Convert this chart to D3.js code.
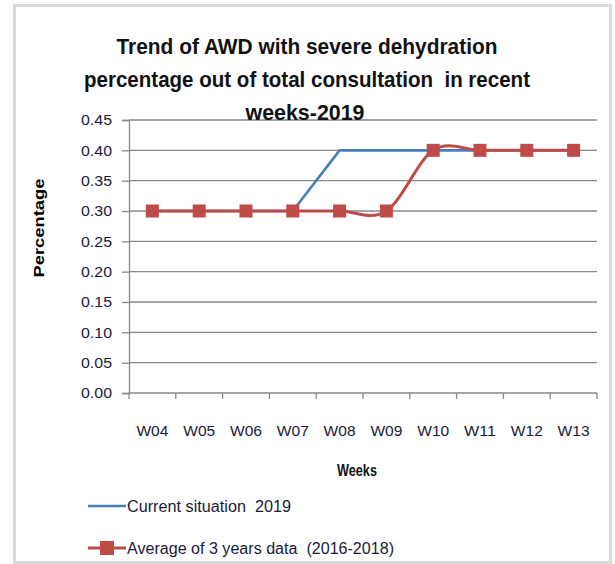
<!DOCTYPE html>
<html>
<head>
<meta charset="utf-8">
<script src="https://cdn.jsdelivr.net/npm/d3@7"></script>
<style>
  body { margin: 0; background: #fff; }
  svg { display: block; font-family: "Liberation Sans", Arial, sans-serif; }
  text { white-space: pre; }
</style>
</head>
<body>
<div id="chart"></div>
<script>
// --- données ---
const weeks = ["W04", "W05", "W06", "W07", "W08", "W09", "W10", "W11", "W12", "W13"];
const current2019 = [0.30, 0.30, 0.30, 0.30, 0.40, 0.40, 0.40, 0.40, 0.40, 0.40];
const average3y = [0.30, 0.30, 0.30, 0.30, 0.30, 0.30, 0.40, 0.40, 0.40, 0.40];
const yTicks = [0, 0.05, 0.10, 0.15, 0.20, 0.25, 0.30, 0.35, 0.40, 0.45];
const titleLines = [
  "Trend of AWD with severe dehydration",
  "percentage out of total consultation  in recent",
  "weeks-2019"
];
const legendLabels = ["Current situation  2019", "Average of 3 years data  (2016-2018)"];

const W = 615, H = 564;
const margin = {top: 120, right: 18, bottom: 171, left: 129};
const plotW = 597 - margin.left;
const plotH = 393 - margin.top;

const svg = d3.select("#chart").append("svg")
  .attr("width", W).attr("height", H);

// cadre extérieur
svg.append("rect")
  .attr("x", 14.5).attr("y", 5.5).attr("width", 596).attr("height", 557)
  .attr("fill", "none").attr("stroke", "#d9d9d9").attr("stroke-width", 3);

const g = svg.append("g").attr("transform", `translate(${margin.left},${margin.top})`);

const x = d3.scaleBand().domain(weeks).range([0, plotW]);
const y = d3.scaleLinear().domain([0, 0.45]).range([plotH, 0]);

// grille horizontale
g.selectAll(".grid").data(yTicks.slice(1)).join("line")
  .attr("x1", 0).attr("x2", plotW)
  .attr("y1", d => y(d)).attr("y2", d => y(d))
  .attr("stroke", "#888").attr("stroke-width", 1.3);

// axe Y
const yAxis = g.append("g")
  .call(d3.axisLeft(y).tickValues(yTicks).tickFormat(d3.format(".2f")).tickSize(7).tickPadding(10));
yAxis.select(".domain").attr("stroke", "#888").attr("stroke-width", 1.3);
yAxis.selectAll(".tick line").attr("stroke", "#888").attr("stroke-width", 1.3);
yAxis.selectAll("text").attr("font-size", 15).attr("fill", "#1a1a3a")
  .attr("textLength", 31).attr("lengthAdjust", "spacingAndGlyphs");

// axe X
const xAxisG = g.append("g").attr("transform", `translate(0,${plotH})`);
xAxisG.append("line").attr("x1", 0).attr("x2", plotW).attr("stroke", "#888").attr("stroke-width", 1.3);
xAxisG.selectAll(".xt").data(d3.range(weeks.length + 1)).join("line")
  .attr("x1", i => i * x.step()).attr("x2", i => i * x.step())
  .attr("y1", 0).attr("y2", 6).attr("stroke", "#888").attr("stroke-width", 1.3);
xAxisG.selectAll(".xl").data(weeks).join("text")
  .attr("x", d => x(d) + x.bandwidth() / 2).attr("y", 43)
  .attr("text-anchor", "middle").attr("font-size", 15).attr("fill", "#1a1a3a")
  .attr("textLength", 32).attr("lengthAdjust", "spacingAndGlyphs")
  .text(d => d);

const cx = d => x(d) + x.bandwidth() / 2;

// série 2019 (ligne droite)
g.append("path")
  .datum(weeks.map((w, i) => [cx(w), y(current2019[i])]))
  .attr("fill", "none").attr("stroke", "#4a7ebb").attr("stroke-width", 2.6)
  .attr("d", d3.line());

// moyenne 3 ans (lissée + carrés)
g.append("path")
  .datum(weeks.map((w, i) => [cx(w), y(average3y[i])]))
  .attr("fill", "none").attr("stroke", "#be4b48").attr("stroke-width", 3)
  .attr("d", d3.line().curve(d3.curveCardinal.tension(0)));

g.selectAll(".mk").data(weeks).join("rect")
  .attr("x", d => cx(d) - 6.5).attr("y", (d, i) => y(average3y[i]) - 6.5)
  .attr("width", 13).attr("height", 13).attr("fill", "#be4b48");

// titre
svg.selectAll(".title").data(titleLines).join("text")
  .attr("x", (d, i) => [307, 307, 305][i])
  .attr("y", (d, i) => 54 + i * 33)
  .attr("text-anchor", "middle").attr("font-size", 22).attr("font-weight", "bold")
  .attr("fill", "#111")
  .attr("textLength", (d, i) => [381, 446, 119][i]).attr("lengthAdjust", "spacingAndGlyphs")
  .text(d => d);

// titres des axes
svg.append("text")
  .attr("transform", "translate(44,228) rotate(-90)")
  .attr("text-anchor", "middle").attr("font-size", 15).attr("font-weight", "bold")
  .attr("textLength", 99).attr("lengthAdjust", "spacingAndGlyphs")
  .text("Percentage");

svg.append("text")
  .attr("x", 357).attr("y", 476).attr("text-anchor", "middle")
  .attr("font-size", 17).attr("font-weight", "bold").attr("fill", "#111")
  .attr("textLength", 40).attr("lengthAdjust", "spacingAndGlyphs")
  .text("Weeks");

// légende
const legend = svg.append("g");
legend.append("line").attr("x1", 88).attr("x2", 126).attr("y1", 506).attr("y2", 506)
  .attr("stroke", "#4a7ebb").attr("stroke-width", 2.6);
legend.append("line").attr("x1", 88).attr("x2", 126).attr("y1", 548).attr("y2", 548)
  .attr("stroke", "#be4b48").attr("stroke-width", 3);
legend.append("rect").attr("x", 100).attr("y", 541).attr("width", 14).attr("height", 14)
  .attr("fill", "#be4b48");
legend.selectAll(".lt").data(legendLabels).join("text")
  .attr("x", 127).attr("y", (d, i) => 512 + i * 42)
  .attr("font-size", 16).attr("fill", "#1a1a3a")
  .attr("textLength", (d, i) => [164, 267][i]).attr("lengthAdjust", "spacingAndGlyphs")
  .text(d => d);
</script>
</body>
</html>
